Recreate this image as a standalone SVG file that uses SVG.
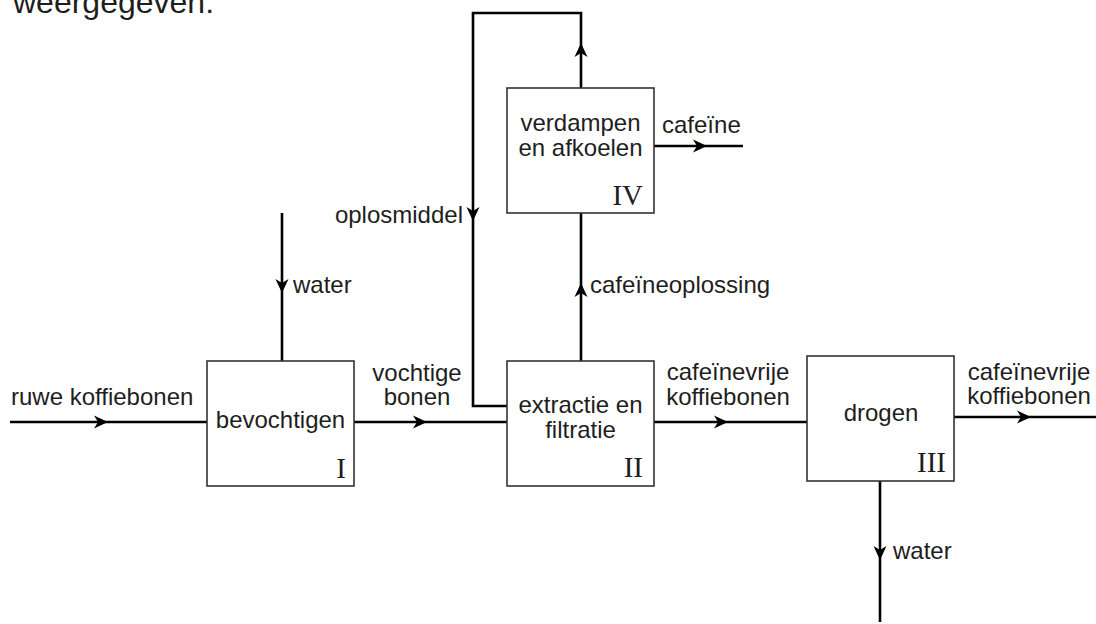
<svg xmlns="http://www.w3.org/2000/svg" xmlns:xlink="http://www.w3.org/1999/xlink" width="1096" height="624" viewBox="0 0 1096 624">
  <style>
    .box { fill: #fff; stroke: #333; stroke-width: 1.6; }
    .flow { fill: none; stroke: #000; stroke-width: 2.6; }
    .lbl { font-family: "Liberation Sans", Arial, sans-serif; font-size: 24px; fill: #1e1e1e; }
    .mid { text-anchor: middle; }
    .end { text-anchor: end; }
    .num { font-family: "Liberation Serif", "Times New Roman", serif; font-size: 29px; fill: #1e1e1e; text-anchor: end; }
    .head { fill: #000; }
  </style>
  <defs>
    <path id="ah" class="head" d="M0,0 L-14,-6.5 L-10,0 L-14,6.5 Z"/>
  </defs>
  <rect width="1096" height="624" fill="#fff"/>
  <text class="lbl" x="13" y="13" style="font-size:32px">weergegeven:</text>

  <g id="connectors">
    <path class="flow" d="M10,422 H207"/>
    <path class="flow" d="M282,213 V361"/>
    <path class="flow" d="M354,422 H507"/>
    <path class="flow" d="M581,88 V13 H473 V406 H507"/>
    <path class="flow" d="M581,361 V213"/>
    <path class="flow" d="M654,146 H743"/>
    <path class="flow" d="M654,422 H807"/>
    <path class="flow" d="M954,417 H1096"/>
    <path class="flow" d="M880,481 V622"/>
    <use xlink:href="#ah" href="#ah" transform="translate(108,422)"/>
    <use xlink:href="#ah" href="#ah" transform="translate(282,293) rotate(90)"/>
    <use xlink:href="#ah" href="#ah" transform="translate(427,422)"/>
    <use xlink:href="#ah" href="#ah" transform="translate(581,43) rotate(-90)"/>
    <use xlink:href="#ah" href="#ah" transform="translate(473,221) rotate(90)"/>
    <use xlink:href="#ah" href="#ah" transform="translate(581,283) rotate(-90)"/>
    <use xlink:href="#ah" href="#ah" transform="translate(707,146)"/>
    <use xlink:href="#ah" href="#ah" transform="translate(728,422)"/>
    <use xlink:href="#ah" href="#ah" transform="translate(1031,417)"/>
    <use xlink:href="#ah" href="#ah" transform="translate(880,560) rotate(90)"/>
  </g>

  <g id="labels">
    <text class="lbl" x="11" y="405">ruwe koffiebonen</text>
    <text class="lbl" x="293" y="293">water</text>
    <text class="lbl mid" x="417" y="381">vochtige</text>
    <text class="lbl mid" x="417" y="405">bonen</text>
    <text class="lbl end" x="463" y="223">oplosmiddel</text>
    <text class="lbl" x="662" y="133">cafeïne</text>
    <text class="lbl" x="590" y="293">cafeïneoplossing</text>
    <text class="lbl mid" x="728" y="380">cafeïnevrije</text>
    <text class="lbl mid" x="728" y="405">koffiebonen</text>
    <text class="lbl mid" x="1029" y="380">cafeïnevrije</text>
    <text class="lbl mid" x="1029" y="404">koffiebonen</text>
    <text class="lbl" x="893" y="559">water</text>
  </g>

  <g id="node-I">
    <rect class="box" x="207" y="361" width="147" height="125"/>
    <text class="lbl mid" x="280.5" y="428">bevochtigen</text>
    <text class="num" x="346" y="478">I</text>
  </g>
  <g id="node-II">
    <rect class="box" x="507" y="361" width="147" height="125"/>
    <text class="lbl mid" x="580.5" y="413">extractie en</text>
    <text class="lbl mid" x="580.5" y="438">filtratie</text>
    <text class="num" x="643" y="477">II</text>
  </g>
  <g id="node-III">
    <rect class="box" x="807" y="356" width="147" height="125"/>
    <text class="lbl mid" x="881" y="421">drogen</text>
    <text class="num" x="946" y="472">III</text>
  </g>
  <g id="node-IV">
    <rect class="box" x="507" y="88" width="147" height="125"/>
    <text class="lbl mid" x="580.5" y="131">verdampen</text>
    <text class="lbl mid" x="580.5" y="156">en afkoelen</text>
    <text class="num" x="643" y="205">IV</text>
  </g>
</svg>
